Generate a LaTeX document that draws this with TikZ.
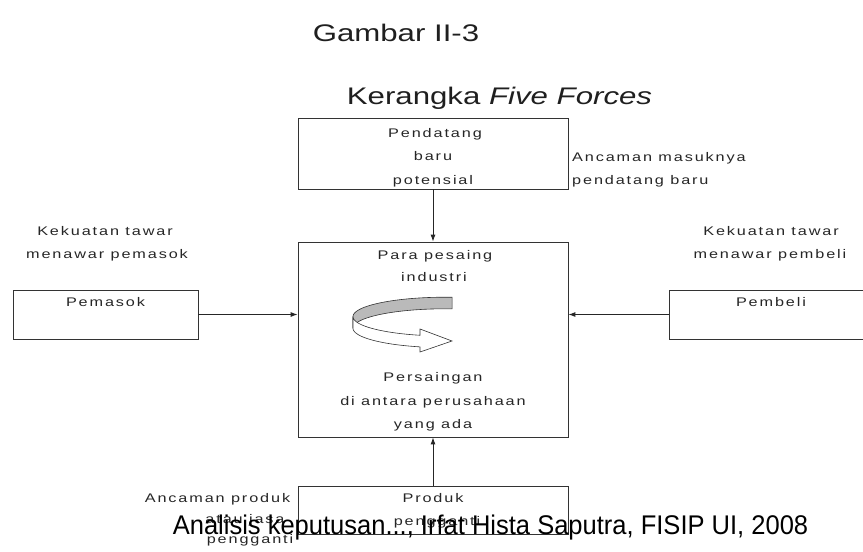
\documentclass[tikz,border=0pt]{standalone}
\usepackage{fontspec}
\setmainfont{Liberation Sans}
\newfontfamily\titlef[FakeStretch=1.3]{Liberation Sans}
\newfontfamily\smallf[FakeStretch=1.3,LetterSpace=15]{Liberation Sans}
\newfontfamily\footf[FakeStretch=0.945]{Liberation Sans}
\usetikzlibrary{arrows.meta}
\tikzset{
  boxnode/.style={draw=black!80, line width=0.8pt, inner sep=0pt},
  lbl/.style={font={\smallf\fontsize{12.5}{15}\selectfont}, text=black!85, inner sep=0pt, anchor=base},
  ttl/.style={font={\titlef\fontsize{24}{28}\selectfont}, text=black!88, inner sep=0pt, anchor=base},
  foot/.style={font={\footf\fontsize{27}{32}\selectfont}, text=black, inner sep=0pt, anchor=base},
  conn/.style={draw=black!85, line width=0.9pt, -{Latex[length=7pt,width=5pt]}}
}
\begin{document}
\begin{tikzpicture}[x=1pt,y=-1pt]
\useasboundingbox (0,0) rectangle (863,552);

% titles
\node[ttl] (t1) at (396,41) {Gambar II-3};
\node[ttl] (t2) at (499.5,104) {Kerangka \textit{Five Forces}};

% boxes
\node[boxnode, minimum width=270pt, minimum height=71pt] (top) at (433,153.5) {};
\node[boxnode, minimum width=270pt, minimum height=195pt] (mid) at (433,339.5) {};
\node[boxnode, minimum width=185pt, minimum height=49pt] (left) at (105.5,314.5) {};
\node[boxnode, minimum width=206pt, minimum height=49pt] (right) at (772,314.5) {};
\node[boxnode, minimum width=270pt, minimum height=48pt] (bot) at (433,510) {};

% connectors
\draw[conn] (top.south) -- (mid.north);
\draw[conn] (left.east) -- (left.east -| mid.west);
\draw[conn] (right.west) -- (right.west -| mid.east);
\draw[conn] (bot.north) -- (mid.south);

% top box texts
\node[lbl] (p1) at (435,137) {Pendatang};
\node[lbl] (p2) at (433,160.5) {baru};
\node[lbl] (p3) at (433,184) {potensial};
\node[lbl, anchor=base west] (a1) at (572,161) {Ancaman masuknya};
\node[lbl, anchor=base west] (a2) at (572,184) {pendatang baru};

% left
\node[lbl] (k1) at (105,235) {Kekuatan tawar};
\node[lbl] (k2) at (107,258) {menawar pemasok};
\node[lbl] (pm) at (105.5,306.5) {Pemasok};

% right
\node[lbl] (k3) at (771,235) {Kekuatan tawar};
\node[lbl] (k4) at (770,258) {menawar pembeli};
\node[lbl] (pb) at (771,306.5) {Pembeli};

% middle box texts
\node[lbl] (m1) at (435,259) {Para pesaing};
\node[lbl] (m2) at (434,281.5) {industri};
\node[lbl] (m3) at (433,381.5) {Persaingan};
\node[lbl] (m4) at (433,405) {di antara perusahaan};
\node[lbl] (m5) at (433,428) {yang ada};

% ribbon arrow
\filldraw[fill=black!27, draw=black!80, line width=0.6pt]
  plot[domain=-85.6:-180, samples=50] ({445+92*cos(\x)},{316.6+19.4*sin(\x)})
  -- plot[domain=-180:-85.6, samples=50] ({445+92*cos(\x)},{328.2+19.4*sin(\x)})
  -- cycle;
\filldraw[fill=white, draw=black!80, line width=0.6pt]
  plot[domain=180:105.8, samples=50] ({445+92*cos(\x)},{316.6+19.4*sin(\x)})
  -- (420,329) -- (452,341) -- (420,352)
  -- plot[domain=105.8:180, samples=50] ({445+92*cos(\x)},{328.2+19.4*sin(\x)})
  -- cycle;

% bottom
\node[lbl] (b1) at (217.5,502) {Ancaman produk};
\node[lbl] (b2) at (245,523) {atau jasa};
\node[lbl] (b3) at (250,543) {pengganti};
\node[lbl] (pr1) at (433,502.5) {Produk};
\node[lbl] (pr2) at (437,525) {pengganti};

% footer
\node[foot] (ft) at (490.5,534) {Analisis keputusan..., Irfat Hista Saputra, FISIP UI, 2008};
\end{tikzpicture}
\end{document}
